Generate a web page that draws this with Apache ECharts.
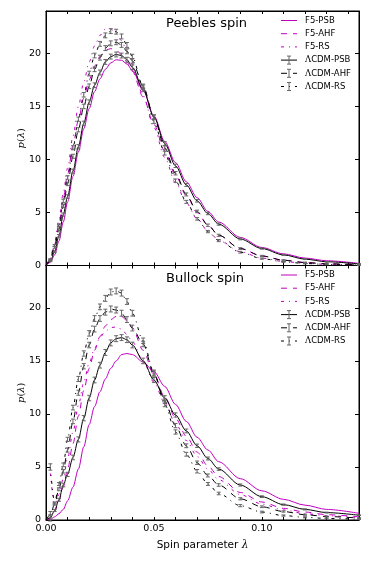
<!DOCTYPE html>
<html><head><meta charset="utf-8">
<script src="https://cdn.jsdelivr.net/npm/echarts@6/dist/echarts.min.js"></script>
<style>html,body{margin:0;padding:0;background:#fff}#c{width:374px;height:561px}</style>
</head><body><div id="c"></div>
<script>
// ---- data ----
const lambda = [0, 0.002, 0.004, 0.006, 0.008, 0.010, 0.0125, 0.015, 0.0175, 0.020, 0.0225, 0.025, 0.0275, 0.030, 0.0325, 0.035, 0.0375, 0.040, 0.045, 0.050, 0.055, 0.060, 0.065, 0.070, 0.075, 0.080, 0.090, 0.100, 0.110, 0.120, 0.130, 0.145];

const peeblesF5PSB   = [0, 0.3, 1.0, 2.3, 4.1, 6.0, 8.4, 10.7, 12.9, 14.8, 16.4, 17.6, 18.5, 19.1, 19.4, 19.35, 19.0, 18.4, 16.5, 14.1, 11.7, 9.7, 7.9, 6.4, 5.1, 4.1, 2.65, 1.7, 1.1, 0.7, 0.45, 0.2];
const peeblesF5AHF   = [0, 0.6, 2.0, 3.9, 6.3, 8.6, 11.3, 13.7, 15.8, 17.5, 18.8, 19.7, 20.3, 20.45, 20.3, 19.9, 19.2, 18.3, 15.9, 13.3, 10.8, 8.5, 6.6, 5.0, 3.8, 2.85, 1.6, 0.9, 0.5, 0.28, 0.16, 0.07];
const peeblesF5RS    = [0, 0.7, 2.2, 4.3, 6.8, 9.2, 12.2, 15.0, 17.3, 19.2, 20.7, 21.7, 22.3, 22.3, 21.9, 21.2, 20.2, 19.0, 16.0, 13.0, 10.2, 7.8, 5.9, 4.4, 3.25, 2.4, 1.3, 0.7, 0.38, 0.2, 0.11, 0.05];
const peeblesLcdmPSB = [0, 0.4, 1.3, 2.8, 4.8, 6.5, 8.9, 11.2, 13.4, 15.4, 17.0, 18.2, 19.2, 19.7, 19.9, 19.8, 19.4, 18.7, 16.6, 14.0, 11.5, 9.4, 7.6, 6.1, 4.9, 3.9, 2.5, 1.6, 1.0, 0.6, 0.35, 0.15];
const peeblesLcdmAHF = [0, 0.5, 1.7, 3.4, 5.6, 7.7, 10.3, 12.8, 15.0, 16.9, 18.5, 19.6, 20.5, 20.95, 21.05, 20.8, 20.2, 19.3, 16.9, 14.0, 11.1, 8.7, 6.7, 5.1, 3.8, 2.85, 1.6, 0.9, 0.5, 0.28, 0.16, 0.07];
const peeblesLcdmRS  = [0, 0.6, 1.9, 3.8, 6.1, 8.3, 11.1, 13.8, 16.1, 18.1, 19.8, 20.9, 21.7, 22.1, 22.05, 21.6, 20.8, 19.7, 16.8, 13.6, 10.6, 8.0, 6.0, 4.4, 3.2, 2.35, 1.25, 0.65, 0.35, 0.19, 0.1, 0.04];
const peeblesErr     = [0, 0.04, 0.08, 0.12, 0.15, 0.17, 0.19, 0.2, 0.21, 0.22, 0.22, 0.23, 0.23, 0.23, 0.23, 0.23, 0.23, 0.22, 0.21, 0.2, 0.18, 0.16, 0.14, 0.12, 0.11, 0.1, 0.08, 0.06, 0.05, 0.04, 0.03, 0.02];

const bullockF5PSB   = [0, 0.05, 0.3, 0.6, 1.0, 1.8, 3.1, 4.8, 6.9, 9.0, 10.7, 12.1, 13.3, 14.3, 15.0, 15.6, 15.7, 15.6, 14.9, 14.0, 12.6, 10.9, 9.3, 7.8, 6.6, 5.5, 3.9, 2.75, 1.95, 1.4, 1.0, 0.63];
const bullockF5AHF   = [0, 0.2, 0.8, 1.8, 3.1, 4.8, 7.2, 9.8, 12.2, 14.3, 16.0, 17.3, 18.3, 18.9, 19.2, 19.2, 18.8, 18.1, 16.0, 13.7, 11.6, 9.6, 7.9, 6.4, 5.1, 4.1, 2.6, 1.7, 1.1, 0.75, 0.5, 0.3];
const bullockF5RS    = [null, 4.4, 1.4, 2.4, 3.9, 5.8, 8.3, 10.8, 13.0, 14.8, 16.2, 17.2, 17.8, 18.15, 18.2, 18.0, 17.5, 16.8, 15.0, 13.0, 11.0, 9.1, 7.5, 6.0, 4.8, 3.8, 2.4, 1.5, 0.95, 0.6, 0.4, 0.22];
const bullockLcdmPSB = [0, 0.2, 0.9, 1.9, 3.3, 4.3, 5.9, 7.6, 9.6, 11.5, 13.2, 14.6, 15.8, 16.7, 17.1, 17.2, 17.0, 16.5, 15.0, 13.2, 11.5, 9.9, 8.4, 7.0, 5.8, 4.8, 3.3, 2.2, 1.45, 1.0, 0.7, 0.45];
const bullockLcdmAHF = [0, 0.5, 1.5, 2.9, 4.6, 6.6, 9.3, 12.0, 14.5, 16.5, 18.0, 19.0, 19.6, 19.9, 19.8, 19.5, 18.9, 18.1, 16.6, 13.8, 11.2, 8.9, 7.0, 5.4, 4.2, 3.3, 2.0, 1.25, 0.8, 0.5, 0.33, 0.18];
const bullockLcdmRS  = [null, 5.0, 1.6, 3.4, 5.2, 7.6, 10.6, 13.3, 15.7, 17.6, 19.0, 20.1, 20.9, 21.5, 21.6, 21.4, 20.6, 19.5, 16.9, 13.9, 10.9, 8.3, 6.2, 4.6, 3.4, 2.5, 1.35, 0.75, 0.42, 0.25, 0.15, 0.08];
const bullockErr     = [0, 0.3, 0.1, 0.14, 0.17, 0.2, 0.22, 0.24, 0.25, 0.26, 0.27, 0.27, 0.28, 0.28, 0.28, 0.28, 0.27, 0.27, 0.26, 0.24, 0.22, 0.2, 0.18, 0.16, 0.14, 0.12, 0.1, 0.08, 0.06, 0.05, 0.04, 0.03];

const panelTitles = ['Peebles spin', 'Bullock spin'];
const seriesNames = ['F5-PSB', 'F5-AHF', 'F5-RS', 'ΛCDM-PSB', 'ΛCDM-AHF', 'ΛCDM-RS'];
const xTickLabels = ['0.00', '0.05', '0.10'];
const yTicks = [0, 5, 10, 15, 20];

// ---- chart ----
const MAG = '#bf00bf';
const FONT = 'DejaVu Sans';
const ERRC = '#666';
const dashes = { PSB: null, AHF: [6, 6], RS: [3, 5, 1, 5] };
const panels = [
  { data: [peeblesF5PSB, peeblesF5AHF, peeblesF5RS, peeblesLcdmPSB, peeblesLcdmAHF, peeblesLcdmRS], err: peeblesErr },
  { data: [bullockF5PSB, bullockF5AHF, bullockF5RS, bullockLcdmPSB, bullockLcdmAHF, bullockLcdmRS], err: bullockErr }
];
const gridTops = [11, 265.5];
const gridH = 254.5;

const chart = echarts.init(document.getElementById('c'), null, { renderer: 'canvas' });

const grids = [], xAxes = [], yAxes = [], series = [], graphics = [];
const tickStyle = { show: true, inside: true, length: 3, lineStyle: { color: '#000', width: 1 } };

panels.forEach((pan, p) => {
  grids.push({ left: 46, right: 15, top: gridTops[p], height: gridH, show: true, borderColor: '#000', borderWidth: 1, containLabel: false });
  const xc = { type: 'value', gridIndex: p, min: 0, max: 0.145, interval: 0.01, splitLine: { show: false },
    axisLine: { show: true, onZero: false, lineStyle: { color: '#000', width: 1 } }, axisTick: tickStyle };
  xAxes.push(Object.assign({}, xc, {
    position: 'bottom',
    axisLabel: { show: p === 1, fontFamily: FONT, fontSize: 9.5, color: '#000', margin: 4,
      formatter: v => { const k = Math.round(v * 20); return Math.abs(v * 20 - k) < 1e-6 && k < xTickLabels.length ? xTickLabels[k] : ''; } },
    name: p === 1 ? '{t|Spin parameter }{l|λ}' : '', nameLocation: 'middle', nameGap: 20,
    nameTextStyle: { color: '#000', fontFamily: FONT, fontSize: 10.5, rich: { t: { fontFamily: FONT, fontSize: 10.5, color: '#000' }, l: { fontFamily: 'DejaVu Serif', fontStyle: 'italic', fontSize: 10.5, color: '#000' } } }
  }));
  xAxes.push(Object.assign({}, xc, { position: 'top', axisLabel: { show: false } }));
  const yc = { type: 'value', gridIndex: p, min: 0, max: 24, interval: 5, splitLine: { show: false },
    axisLine: { show: true, onZero: false, lineStyle: { color: '#000', width: 1 } }, axisTick: Object.assign({}, tickStyle, { length: 4 }) };
  yAxes.push(Object.assign({}, yc, {
    position: 'left',
    axisLabel: { show: true, fontFamily: FONT, fontSize: 9.5, color: '#000', margin: 5, showMaxLabel: false,
      formatter: v => yTicks.indexOf(v) >= 0 ? String(v) : '' },
    name: '{i|p}{n|(}{i|λ}{n|)}', nameLocation: 'middle', nameGap: 20, nameRotate: 90, nameMoveOverlap: false,
    nameTextStyle: { rich: { i: { fontFamily: 'DejaVu Serif', fontStyle: 'italic', fontSize: 10, color: '#000' }, n: { fontFamily: 'DejaVu Serif', fontSize: 10, color: '#000' } } }
  }));
  yAxes.push(Object.assign({}, yc, { position: 'right', axisLabel: { show: false } }));

  pan.data.forEach((vals, s) => {
    const isF5 = s < 3;
    const kind = ['PSB', 'AHF', 'RS'][s % 3];
    const pts = [];
    lambda.forEach((x, i) => { if (vals[i] !== null) pts.push([x, vals[i]]); });
    series.push({
      type: 'line', name: seriesNames[s], xAxisIndex: 2 * p, yAxisIndex: 2 * p, data: pts,
      showSymbol: false, symbol: 'none', smooth: 0.3, smoothMonotone: 'x', animation: false, z: isF5 ? 2 : 3,
      lineStyle: { color: isF5 ? MAG : '#000', width: 1, type: dashes[kind] || 'solid' }
    });
    if (!isF5) {
      const ed = [];
      lambda.forEach((x, i) => { if (vals[i] !== null && x > 0) ed.push([x, vals[i], pan.err[i]]); });
      series.push({
        type: 'custom', xAxisIndex: 2 * p, yAxisIndex: 2 * p, data: ed, animation: false, z: 4, silent: true,
        encode: { x: 0, y: 1 },
        renderItem: (params, api) => {
          const x = api.value(0), y = api.value(1), e = api.value(2);
          const a = api.coord([x, y + e]), b = api.coord([x, y - e]);
          const st = { stroke: ERRC, lineWidth: 1 };
          const w = 2;
          return { type: 'group', children: [
            { type: 'line', shape: { x1: a[0], y1: a[1], x2: b[0], y2: b[1] }, style: st },
            { type: 'line', shape: { x1: a[0] - w, y1: a[1], x2: a[0] + w, y2: a[1] }, style: st },
            { type: 'line', shape: { x1: b[0] - w, y1: b[1], x2: b[0] + w, y2: b[1] }, style: st }
          ] };
        }
      });
    }
  });

  // title
  graphics.push({ type: 'text', x: 166, y: gridTops[p] + 13, style: { text: panelTitles[p], fontFamily: FONT, fontSize: 13, fill: '#000', verticalAlign: 'middle', align: 'left' } });
  // legend
  const rowY0 = gridTops[p] + 9.5, rowDy = 13.2;
  seriesNames.forEach((nm, s) => {
    const y = rowY0 + s * rowDy;
    const isF5 = s < 3;
    const kind = ['PSB', 'AHF', 'RS'][s % 3];
    const col = isF5 ? MAG : '#000';
    graphics.push({ type: 'line', shape: { x1: 281, y1: y, x2: 297, y2: y }, style: { stroke: col, lineWidth: 1, lineDash: dashes[kind] || null } });
    if (!isF5) {
      const st = { stroke: ERRC, lineWidth: 1 };
      graphics.push({ type: 'line', shape: { x1: 289, y1: y - 4, x2: 289, y2: y + 4 }, style: st });
      graphics.push({ type: 'line', shape: { x1: 287, y1: y - 4, x2: 291, y2: y - 4 }, style: st });
      graphics.push({ type: 'line', shape: { x1: 287, y1: y + 4, x2: 291, y2: y + 4 }, style: st });
      graphics.push({ type: 'text', x: 305, y: y, style: { text: '{l|Λ}{t|' + nm.slice(1) + '}', verticalAlign: 'middle', align: 'left',
        rich: { l: { fontFamily: 'DejaVu Serif', fontSize: 8.5, fill: '#000' }, t: { fontFamily: FONT, fontSize: 8.5, fill: '#000' } } } });
    } else {
      graphics.push({ type: 'text', x: 305, y: y, style: { text: nm, fontFamily: FONT, fontSize: 8.5, fill: '#000', verticalAlign: 'middle', align: 'left' } });
    }
  });
});

chart.setOption({
  animation: false,
  backgroundColor: '#fff',
  grid: grids, xAxis: xAxes, yAxis: yAxes, series: series, graphic: graphics
});
</script>
</body></html>
